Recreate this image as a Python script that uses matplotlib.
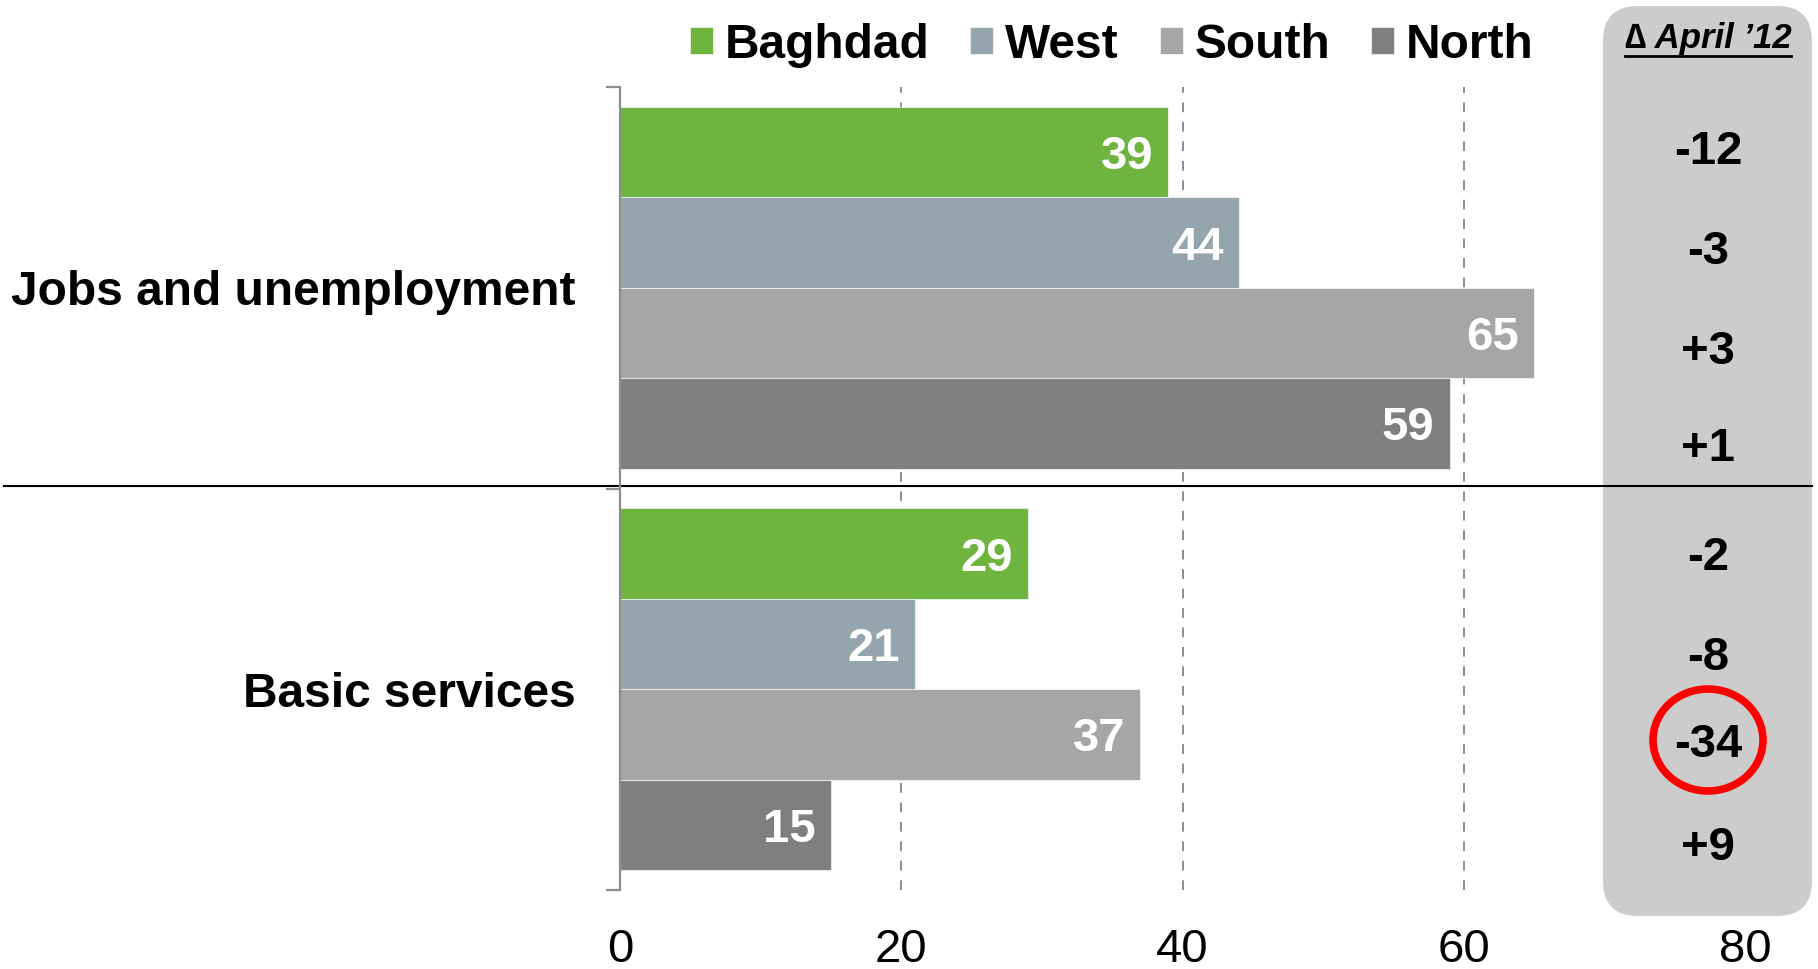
import numpy as np
import matplotlib
matplotlib.use('Agg')
from matplotlib import pyplot as plt
from matplotlib.patches import FancyBboxPatch, Ellipse
from matplotlib.lines import Line2D

plt.rcParams['font.family'] = ['Liberation Sans', 'DejaVu Sans']

# 데이터
issues = ['Jobs and unemployment', 'Basic services']
regions = ['Baghdad', 'West', 'South', 'North']
baghdad = [39, 29]
west = [44, 21]
south = [65, 37]
north = [59, 15]
delta_jobs = ['-12', '-3', '+3', '+1']
delta_basic = ['-2', '-8', '-34', '+9']
x_ticks = [0, 20, 40, 60, 80]

colors = ['#6EB43F', '#95A5AE', '#A6A6A6', '#7F7F7F']

W, H = 1818, 969
fig = plt.figure(figsize=(W / 100, H / 100), dpi=100)

# 배경용 축 (픽셀 좌표)
bg = fig.add_axes([0, 0, 1, 1], zorder=0)
bg.set_xlim(0, W)
bg.set_ylim(H, 0)
bg.axis('off')

ax = fig.add_axes([620 / W, 1 - 890 / H, 1125 / W, 803 / H], zorder=1)
ax.patch.set_alpha(0)

gap = 0.44
margin = 0.22
values = [baghdad, west, south, north]
bars = []
for i, (name, vals, c) in enumerate(zip(regions, values, colors)):
    ys = [i, 4 + gap + i]
    b = ax.barh(ys, vals, height=1.0, color=c, edgecolor=(1, 1, 1, 0.6), linewidth=0.8, label=name, zorder=2)
    bars.append(b)
    for y, v in zip(ys, vals):
        ax.annotate(str(v), (v, y), xytext=(-11, 0), textcoords='offset points',
                    ha='right', va='center_baseline', color='white', fontsize=34, fontweight='bold', zorder=3)

ax.set_xlim(x_ticks[0], x_ticks[-1])
ax.set_ylim(7.5 + gap + margin, -0.5 - margin)

# 점선 그리드
for t in x_ticks[1:-1]:
    ax.axvline(t, color='#8C8C8C', lw=1.4, ls=(0, (5, 5)), zorder=1)

for s in ['top', 'right', 'bottom']:
    ax.spines[s].set_visible(False)
ax.spines['left'].set_color('#8C8C8C')
ax.spines['left'].set_linewidth(1.6)

ax.set_xticks(x_ticks)
ax.tick_params(axis='x', length=0, labelsize=34, pad=27)

# 구간 경계 눈금 + 항목 이름
ax.set_yticks([-0.5 - margin, 3.5 + margin, 7.5 + gap + margin])
ax.set_yticklabels([])
ax.tick_params(axis='y', which='major', length=10, width=1.6, color='#8C8C8C')
ax.set_yticks([1.5, 5.5 + gap], minor=True)
ax.set_yticklabels(issues, minor=True, fontsize=34.5, fontweight='bold')
ax.tick_params(axis='y', which='minor', length=0, pad=32)

# 범례
fig.legend(handles=bars, labels=regions, loc='center', bbox_to_anchor=(1112 / W, 1 - 45 / H), ncol=4,
           frameon=False, handlelength=0.48, handleheight=0.48, handletextpad=0.25, columnspacing=0.85,
           prop={'size': 34.5, 'weight': 'bold'}, borderaxespad=0, borderpad=0)

# 오른쪽 변화량 패널
bg.add_patch(FancyBboxPatch((1603, 6), 209, 910, boxstyle='round,pad=0,rounding_size=35',
                            fc='#CCCCCC', ec='none'))
hdr = bg.text(1708, 38, '\u2206 April \u201912', ha='center', va='center', fontsize=25,
              fontweight='bold', fontstyle='italic')
fig.canvas.draw()
bb = hdr.get_window_extent()
bg.plot([bb.x0, bb.x1], [H - bb.y0 + 1, H - bb.y0 + 1], color='black', lw=2)

delta_y = [147, 247, 347, 444, 553, 653, 740, 843]
for y, d in zip(delta_y, delta_jobs + delta_basic):
    bg.text(1708, y, d, ha='center', va='center_baseline', fontsize=34, fontweight='bold')

bg.add_patch(Ellipse((1708, 740), 110, 102, fill=False, ec='red', lw=5.5))

# 구분선
bg.add_line(Line2D([4, 1812], [486, 486], color='black', lw=1.5))

fig.savefig('out.png', dpi=100)
